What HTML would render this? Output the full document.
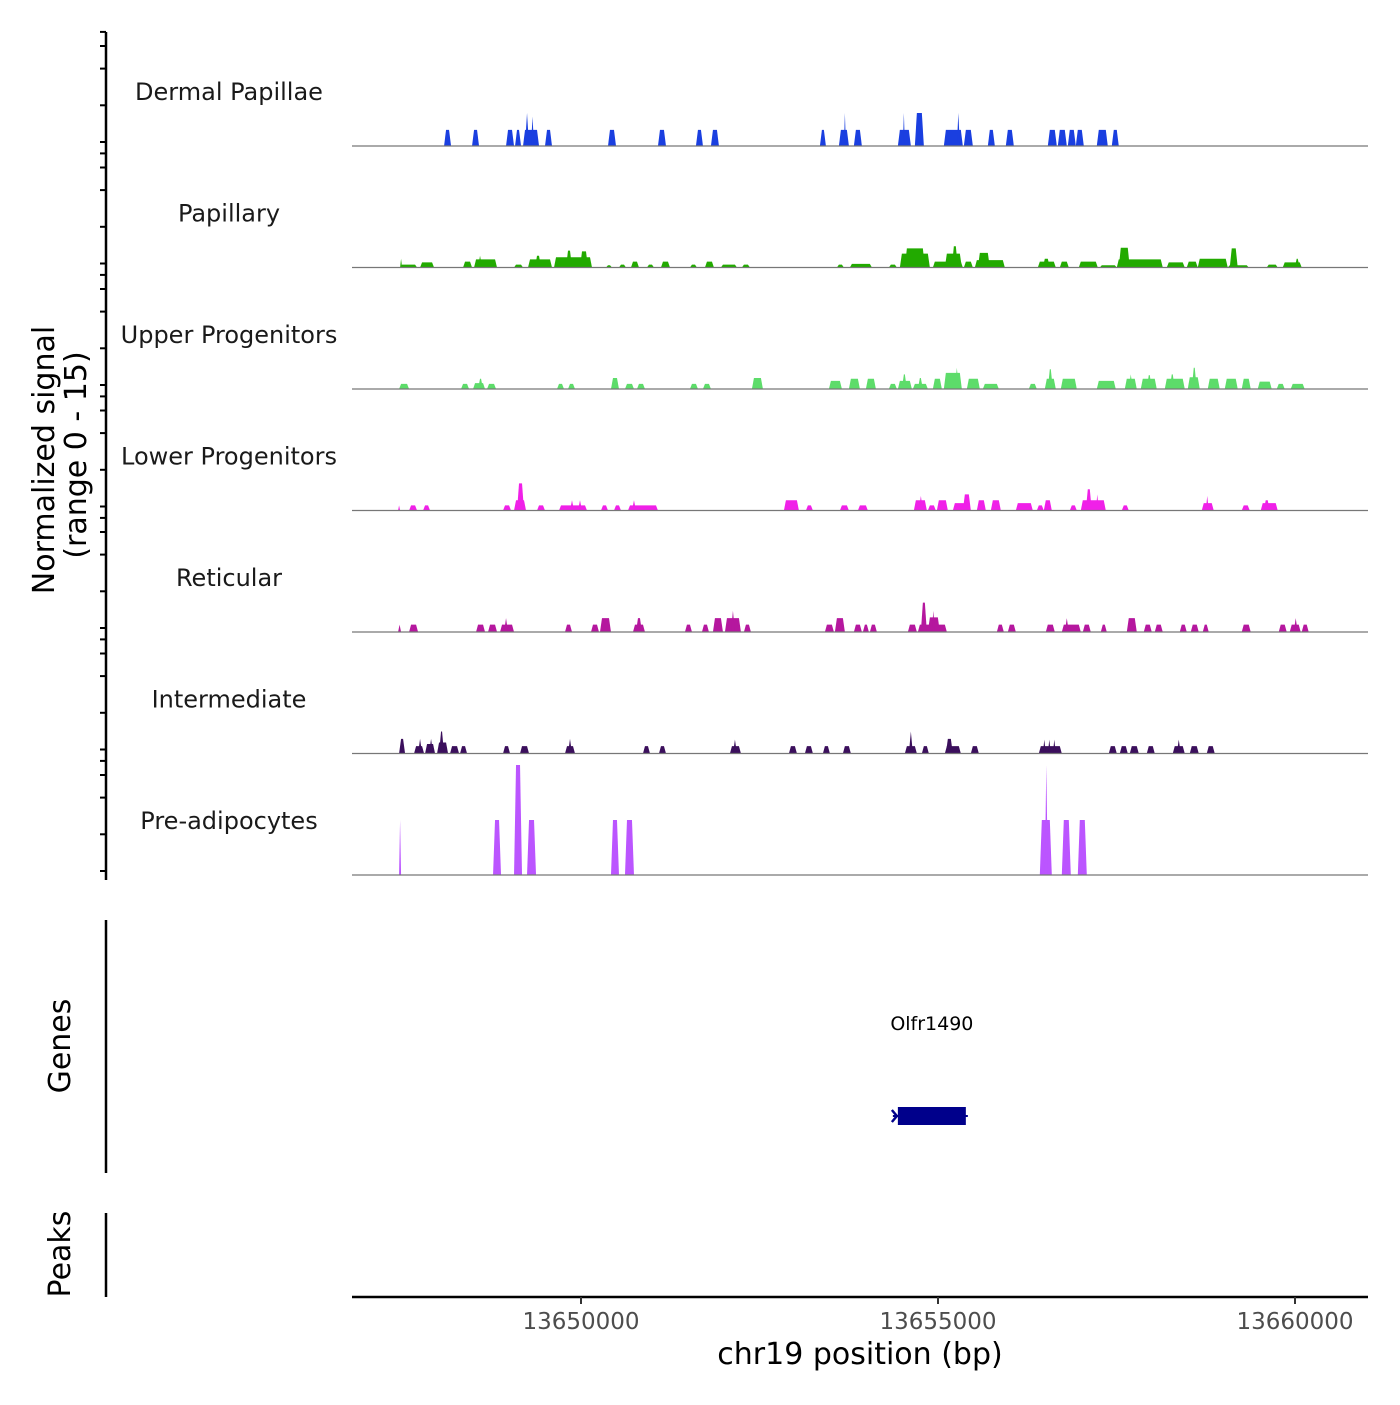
<!DOCTYPE html>
<html><head><meta charset="utf-8"><style>
body{margin:0;background:#fff}
svg text{font-family:"DejaVu Sans","Liberation Sans",sans-serif}
</style></head><body>
<svg id="chart" width="1400" height="1400" viewBox="0 0 1400 1400" xmlns="http://www.w3.org/2000/svg">
<rect width="1400" height="1400" fill="#fff"/>
<g id="tracks"></g>
<g id="axes"></g>
</svg>
<script>
// x-axis ticks
const xTicks = [13650000, 13655000, 13660000];
const trackNames = ["Dermal Papillae","Papillary","Upper Progenitors","Lower Progenitors","Reticular","Intermediate","Pre-adipocytes"];
const trackColors = ["#1a3fe0","#22aa00","#5ddc6a","#f020e8","#b5179e","#3b0f5c","#bb55ff"];
// Dermal Papillae
const dpStart=[13648082,13648474,13648950,13649076,13649188,13649216,13649300,13649496,13650378,13651078,13651610,13651820,13653346,13653612,13653682,13653822,13654438,13654508,13654676,13655082,13655264,13655362,13655698,13655950,13656538,13656678,13656818,13656930,13657224,13657434];
const dpEnd=[13648180,13648572,13649062,13649160,13649412,13649272,13649342,13649594,13650490,13651190,13651708,13651932,13653430,13653752,13653710,13653934,13654620,13654536,13654802,13655348,13655306,13655488,13655796,13656062,13656664,13656804,13656930,13657042,13657378,13657532];
const dpVal=[2.2,2.2,2.2,2.2,2.2,4.5,4.0,2.2,2.2,2.2,2.2,2.2,2.2,2.2,4.5,2.2,2.2,4.5,4.5,2.2,4.5,2.2,2.2,2.2,2.2,2.2,2.2,2.2,2.2,2.2];
// Papillary
const paStart=[13647466,13647466,13647746,13648348,13648502,13648558,13649062,13649258,13649356,13649622,13649790,13649986,13650350,13650532,13650700,13650924,13651120,13651526,13651736,13651960,13652254,13653584,13653766,13654312,13654466,13654536,13654928,13655096,13655194,13655362,13655516,13655558,13656398,13656468,13656706,13656972,13657266,13657504,13657532,13658204,13658484,13658638,13659058,13659086,13659604,13659828,13659996];
const paEnd=[13647494,13647704,13647942,13648474,13648824,13648614,13649188,13649594,13649440,13650154,13649874,13650098,13650434,13650630,13650812,13651022,13651246,13651624,13651862,13652184,13652366,13653682,13654074,13654424,13654886,13654816,13655348,13655334,13655278,13655488,13655936,13655726,13656650,13656566,13656832,13657238,13657504,13658148,13657686,13658456,13658638,13659058,13659352,13659198,13659758,13660094,13660066];
const paVal=[1.2,0.4,0.7,0.8,1.1,1.6,0.4,1.1,1.6,1.4,2.3,2.2,0.3,0.4,0.8,0.4,0.8,0.4,0.8,0.4,0.4,0.4,0.5,0.4,1.9,2.6,0.8,1.9,2.9,0.8,1.0,2.0,0.8,1.2,0.8,0.8,0.3,1.1,2.7,0.7,0.8,1.2,0.3,2.6,0.4,0.7,1.2];
// Upper Progenitors
const upStart=[13647452,13648320,13648488,13648558,13648684,13649664,13649818,13650420,13650616,13650784,13651526,13651708,13652394,13653472,13653752,13653990,13654312,13654438,13654494,13654648,13654718,13654928,13655082,13655236,13655404,13655628,13656272,13656496,13656538,13656720,13657224,13657616,13657672,13657840,13657924,13658176,13658246,13658498,13658554,13658778,13659016,13659254,13659478,13659744,13659940];
const upEnd=[13647592,13648432,13648656,13648628,13648810,13649762,13649916,13650532,13650742,13650896,13651638,13651820,13652548,13653654,13653906,13654130,13654424,13654634,13654564,13654858,13654788,13655054,13655334,13655292,13655586,13655852,13656384,13656650,13656608,13656944,13657490,13657784,13657728,13658064,13657994,13658456,13658316,13658666,13658624,13658946,13659198,13659380,13659674,13659856,13660136];
const upVal=[0.7,0.7,0.8,1.4,0.7,0.7,0.7,1.5,0.7,0.7,0.7,0.7,1.5,1.1,1.4,1.4,0.7,1.1,2.0,0.7,1.5,1.4,2.2,2.9,1.4,0.7,0.7,1.4,2.7,1.4,1.1,1.4,2.0,1.4,1.9,1.4,2.0,1.6,2.9,1.4,1.4,1.4,1.0,0.7,0.7];
// Lower Progenitors
const lpStart=[13647438,13647592,13647788,13648908,13649062,13649104,13649384,13649692,13649846,13649958,13650280,13650462,13650658,13650714,13652842,13653150,13653626,13653878,13654662,13654732,13654858,13654984,13655208,13655348,13655544,13655740,13656090,13656384,13656482,13656846,13657000,13657070,13657210,13657574,13658694,13658750,13659254,13659520,13659562];
const lpEnd=[13647466,13647704,13647886,13649020,13649230,13649202,13649496,13650084,13649902,13650014,13650378,13650560,13651078,13650770,13653052,13653248,13653752,13654018,13654844,13654788,13654970,13655138,13655460,13655460,13655670,13655880,13656328,13656482,13656594,13656944,13657350,13657154,13657252,13657672,13658862,13658792,13659366,13659758,13659646];
const lpVal=[0.7,0.7,0.7,0.7,1.4,3.7,0.7,0.7,1.4,1.4,0.7,0.7,0.7,1.4,1.4,0.7,0.7,0.7,1.4,2.0,0.7,1.4,1.0,2.2,1.4,1.4,1.0,0.7,1.4,0.7,1.4,2.9,2.2,0.7,1.0,2.0,0.7,1.0,1.4];
// Reticular
const reStart=[13647438,13647592,13648530,13648698,13648866,13648922,13649776,13650140,13650266,13650728,13650770,13651456,13651694,13651848,13652016,13652100,13652282,13653416,13653556,13653822,13653948,13654046,13654578,13654718,13654760,13654858,13654914,13655824,13655978,13656510,13656734,13656776,13657028,13657280,13657644,13657882,13658036,13658386,13658540,13658708,13659254,13659772,13659926,13659982,13660094];
const reEnd=[13647480,13647718,13648656,13648824,13649062,13648978,13649874,13650252,13650420,13650896,13650854,13651554,13651792,13651988,13652240,13652156,13652380,13653542,13653696,13653934,13654032,13654144,13654704,13655124,13654844,13655026,13654956,13655922,13656090,13656636,13657000,13656832,13657140,13657364,13657784,13657994,13658148,13658484,13658652,13658792,13659380,13659884,13660080,13660038,13660192];
const reVal=[1.0,1.0,1.0,1.0,1.0,1.9,1.0,1.0,1.9,1.0,1.9,1.0,1.0,1.9,1.9,2.9,1.0,1.0,1.9,1.0,1.0,1.0,1.0,1.0,4.0,2.0,2.9,1.0,1.0,1.0,1.0,1.9,1.0,1.0,1.9,1.0,1.0,1.0,1.0,1.0,1.0,1.0,1.0,1.9,1.0];
// Intermediate
const imStart=[13647452,13647662,13647718,13647816,13647872,13647984,13648012,13648166,13648306,13648908,13649146,13649776,13649818,13650868,13651092,13652086,13652128,13652912,13653136,13653388,13653668,13654536,13654592,13654774,13655096,13655110,13655460,13656412,13656468,13656538,13656608,13657392,13657546,13657686,13657924,13658288,13658344,13658526,13658764];
const imEnd=[13647536,13647802,13647774,13647956,13647928,13648138,13648082,13648292,13648404,13649006,13649272,13649916,13649874,13650966,13651190,13652240,13652184,13653024,13653248,13653486,13653780,13654704,13654648,13654872,13655320,13655208,13655572,13656734,13656510,13656580,13656650,13657504,13657658,13657812,13658036,13658456,13658400,13658652,13658876];
const imVal=[2.0,1.0,2.0,1.3,2.0,1.5,3.0,1.0,1.0,1.0,1.0,1.0,2.0,1.0,1.0,1.0,1.9,1.0,1.0,1.0,1.0,1.0,3.0,1.0,1.0,2.0,1.0,1.0,1.9,1.9,1.9,1.0,1.0,1.0,1.0,1.0,1.9,1.0,1.0];
// Pre-adipocytes
const paaStart=[13647452,13648768,13649062,13649244,13650420,13650616,13656426,13656496,13656734,13656958];
const paaEnd=[13647480,13648880,13649174,13649370,13650532,13650742,13656594,13656538,13656860,13657084];
const paaVal=[7.5,7.5,15,7.5,7.5,7.5,7.5,15,7.5,7.5];
// Gene
const geneName=["Olfr1490"];
const geneStart=[13654438];
const geneEnd=[13655390];

const starts=[dpStart,paStart,upStart,lpStart,reStart,imStart,paaStart];
const ends=[dpEnd,paEnd,upEnd,lpEnd,reEnd,imEnd,paaEnd];
const vals=[dpVal,paVal,upVal,lpVal,reVal,imVal,paaVal];

const NS="http://www.w3.org/2000/svg";
const X0=352,X1=1368;
const xScale=bp=>581+(bp-13650000)*(357/5000);
const baselines=[146,267.5,389,510.5,632,753.5,875];
const yScale=(v,b)=>b-v*110/15;
function mk(tag,attrs,parent){const e=document.createElementNS(NS,tag);for(const k in attrs)e.setAttribute(k,attrs[k]);parent.appendChild(e);return e;}
const tg=document.getElementById('tracks');
const ax=document.getElementById('axes');

for(let t=0;t<7;t++){
  const b=baselines[t];
  const g=mk('g',{},tg);
  
  
  const lab=mk('text',{x:229,y:b-46,'text-anchor':'middle','font-size':'24',fill:'#1a1a1a'},g);
  lab.textContent=trackNames[t];
  
  
  for(let i=0;i<starts[t].length;i++){
    const x0=xScale(starts[t][i]),x1=xScale(ends[t][i]),y=yScale(vals[t][i],b);
    const ins=Math.min(2,(x1-x0)/2);
    const p=mk('polygon',{points:`${x0},${b} ${x0+ins},${y} ${x1-ins},${y} ${x1},${b}`,fill:trackColors[t]},g);
    
    
  }
  const bl=mk('line',{x1:X0,x2:X1,y1:b,y2:b,stroke:'#777','stroke-width':1.2},g);
  
  
  for(let k=0;k<4;k++){
    const ty=b-4-k*36.7;
    const tk=mk('line',{x1:100,x2:106,y1:ty,y2:ty,stroke:'#000','stroke-width':2},ax);
    
    
  }
  const tk2=mk('line',{x1:100,x2:106,y1:b-100,y2:b-100,stroke:'#000','stroke-width':2},ax);
  
  
}
let yl=mk('line',{x1:106,x2:106,y1:32,y2:880,stroke:'#000','stroke-width':2.5},ax);


let gl=mk('line',{x1:106,x2:106,y1:920,y2:1173,stroke:'#000','stroke-width':2.5},ax);


let pl=mk('line',{x1:106,x2:106,y1:1213,y2:1297,stroke:'#000','stroke-width':2.5},ax);



function rot(txt,x,y,name){const e=mk('text',{x:x,y:y,'text-anchor':'middle','font-size':'30',fill:'#000',transform:`rotate(-90 ${x} ${y})`},ax);e.textContent=txt;}
rot('Normalized signal',54,460,'y-axis-title');
rot('(range 0 - 15)',86,455,'y-axis-subtitle');
rot('Genes',70,1046,'genes-label');
rot('Peaks',70,1254,'peaks-label');

// gene
const gg=mk('g',{},tg);


for(let i=0;i<geneName.length;i++){
  const gx0=xScale(geneStart[i]),gx1=xScale(geneEnd[i]);
  const gt=mk('text',{x:(gx0+gx1)/2,y:1030,'text-anchor':'middle','font-size':'19',fill:'#000'},gg);
  gt.textContent=geneName[i];
  
  
  const gln=mk('line',{x1:gx0-5,x2:gx1+2,y1:1116,y2:1116,stroke:'#00008b','stroke-width':2},gg);
  
  
  const gr=mk('rect',{x:gx0,y:1107,width:gx1-gx0,height:18,fill:'#00008b'},gg);
  
  
  const ch=mk('polyline',{points:`${gx0-6},${1110} ${gx0-1},${1116} ${gx0-6},${1122}`,fill:'none',stroke:'#00008b','stroke-width':2.5},gg);
  
  
}

// x axis
let xl=mk('line',{x1:X0,x2:X1,y1:1297,y2:1297,stroke:'#000','stroke-width':2.5},ax);


for(const v of xTicks){
  const x=xScale(v);
  const tk=mk('line',{x1:x,x2:x,y1:1297,y2:1304,stroke:'#333','stroke-width':2},ax);
  
  
  const tl=mk('text',{x:x,y:1329,'text-anchor':'middle','font-size':'23',fill:'#4d4d4d'},ax);
  tl.textContent=String(v);
  
  
}
const xt=mk('text',{x:860,y:1364,'text-anchor':'middle','font-size':'30',fill:'#000'},ax);
xt.textContent='chr19 position (bp)';


</script>
</body></html>
